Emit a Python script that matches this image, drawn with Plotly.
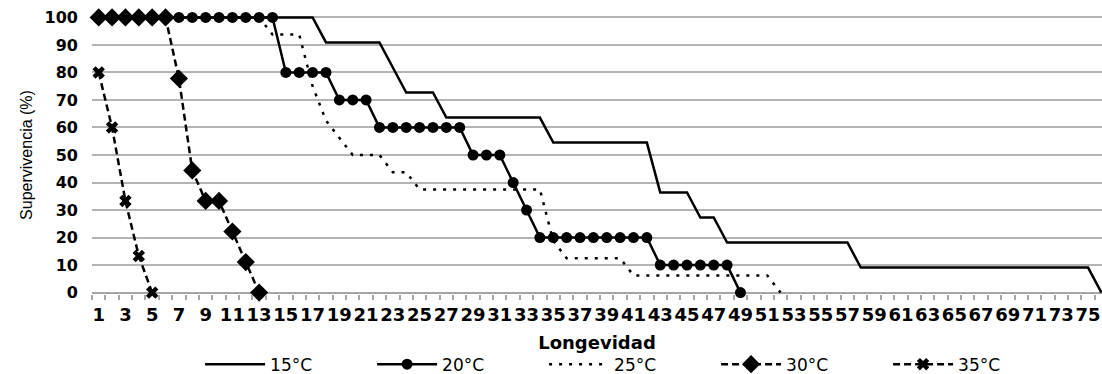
import plotly.graph_objects as go

# Longevidad (días)
days = list(range(1, 77))

# Supervivencia (%) por temperatura
s15 = [100, 100, 100, 100, 100, 100, 100, 100, 100, 100, 100, 100, 100, 100, 100, 100, 100,
       90.9, 90.9, 90.9, 90.9, 90.9, 81.8, 72.7, 72.7, 72.7,
       63.6, 63.6, 63.6, 63.6, 63.6, 63.6, 63.6, 63.6,
       54.5, 54.5, 54.5, 54.5, 54.5, 54.5, 54.5, 54.5,
       36.4, 36.4, 36.4, 27.3, 27.3,
       18.2, 18.2, 18.2, 18.2, 18.2, 18.2, 18.2, 18.2, 18.2, 18.2,
       9.1, 9.1, 9.1, 9.1, 9.1, 9.1, 9.1, 9.1, 9.1, 9.1, 9.1, 9.1, 9.1, 9.1, 9.1, 9.1, 9.1, 9.1,
       0]
s20 = [100, 100, 100, 100, 100, 100, 100, 100, 100, 100, 100, 100, 100, 100,
       80, 80, 80, 80, 70, 70, 70,
       60, 60, 60, 60, 60, 60, 60, 50, 50, 50, 40, 30,
       20, 20, 20, 20, 20, 20, 20, 20, 20,
       10, 10, 10, 10, 10, 10, 0]
s25 = [100, 100, 100, 100, 100, 100, 100, 100, 100, 100, 100, 100, 100,
       93.75, 93.75, 93.75, 75, 62.5, 56.25, 50, 50, 50, 43.75, 43.75,
       37.5, 37.5, 37.5, 37.5, 37.5, 37.5, 37.5, 37.5, 37.5, 37.5,
       18.75, 12.5, 12.5, 12.5, 12.5, 12.5,
       6.25, 6.25, 6.25, 6.25, 6.25, 6.25, 6.25, 6.25, 6.25, 6.25, 6.25, 0]
s30 = [100, 100, 100, 100, 100, 100, 77.8, 44.4, 33.3, 33.3, 22.2, 11.1, 0]
s35 = [80, 60, 33.3, 13.3, 0]

names = ["15°C", "20°C", "25°C", "30°C", "35°C"]
x_tickvals = list(range(1, 77, 2))
x_ticktext = [str(v) for v in x_tickvals]
y_tickvals = [0, 10, 20, 30, 40, 50, 60, 70, 80, 90, 100]

fig = go.Figure()
fig.add_trace(go.Scatter(x=days[:len(s15)], y=s15, name=names[0], mode="lines",
                         line=dict(color="black", width=2.5)))
fig.add_trace(go.Scatter(x=days[:len(s20)], y=s20, name=names[1], mode="lines+markers",
                         line=dict(color="black", width=2.5),
                         marker=dict(symbol="circle", size=11, color="black"), cliponaxis=False))
fig.add_trace(go.Scatter(x=days[:len(s25)], y=s25, name=names[2], mode="lines",
                         line=dict(color="black", width=2.5, dash="3px,7px")))
fig.add_trace(go.Scatter(x=days[:len(s30)], y=s30, name=names[3], mode="lines+markers",
                         line=dict(color="black", width=2.5, dash="7px,4px"),
                         marker=dict(symbol="diamond", size=14, color="black"), cliponaxis=False))
fig.add_trace(go.Scatter(x=days[:len(s35)], y=s35, name=names[4], mode="lines+markers",
                         line=dict(color="black", width=2.5, dash="7px,4px"),
                         marker=dict(symbol="x", size=11, color="black"), cliponaxis=False))

fig.update_layout(
    width=1102, height=374,
    margin=dict(l=92, r=0, t=16, b=80, autoexpand=False),
    paper_bgcolor="white", plot_bgcolor="white",
    showlegend=True,
    legend=dict(orientation="h", x=0.107, xanchor="left", y=-0.254, yanchor="middle",
                font=dict(family="DejaVu Sans", size=17, color="black"),
                itemwidth=60, entrywidth=97, entrywidthmode="pixels",
                bgcolor="rgba(0,0,0,0)"),
    xaxis=dict(range=[0.5, 76.04], tickmode="array", tickvals=x_tickvals, ticktext=x_ticktext,
               tickangle=0, ticks="", showgrid=False, zeroline=False, showline=False,
               tickfont=dict(family="DejaVu Sans", size=18, color="black", weight="bold"),
               ticklabelstandoff=8,
               minor=dict(tickmode="linear", tick0=0.5, dtick=1, ticks="outside", ticklen=5,
                          tickwidth=1.5, tickcolor="#a6a6a6", showgrid=False),
               title=dict(text="Longevidad", standoff=12,
                          font=dict(family="DejaVu Sans", size=18, color="black", weight="bold"))),
    yaxis=dict(range=[-0.5, 100.5], tickmode="array", tickvals=y_tickvals,
               ticks="", showgrid=True, gridcolor="#b4b4b4", gridwidth=1.5,
               zeroline=True, zerolinecolor="#a6a6a6", zerolinewidth=1.5, showline=False,
               tickfont=dict(family="DejaVu Sans", size=16, color="black", weight="bold"),
               ticklabelstandoff=13,
               title=dict(text="Supervivencia (%)", standoff=7,
                          font=dict(family="Liberation Sans", size=16, color="black"))),
)

# remove the page's default 8px body margin so the figure fills the window exactly
fig.write_html("out.html", config={"displayModeBar": False},
               post_script="document.body.style.margin='0';")
